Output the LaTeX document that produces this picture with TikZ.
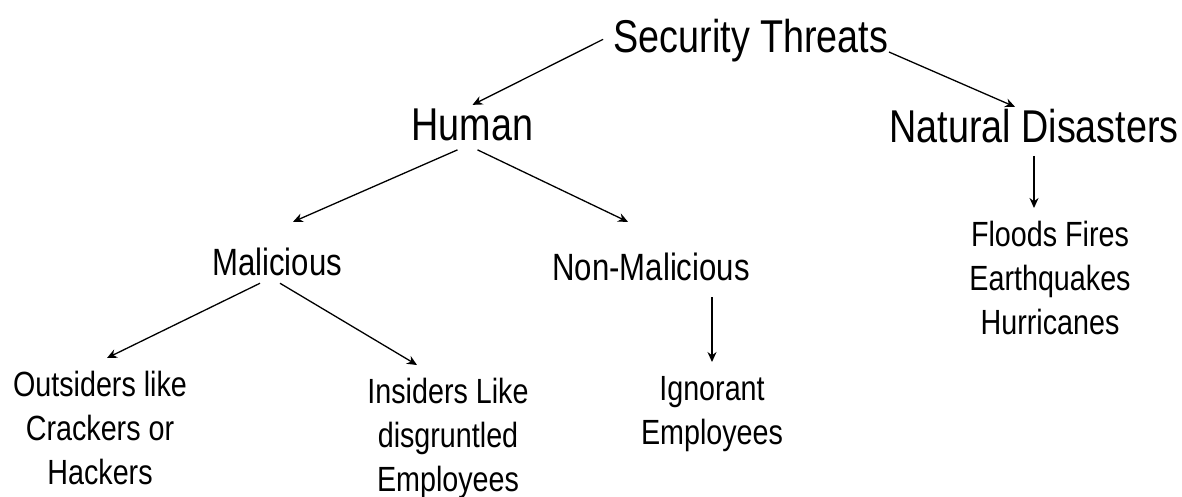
\documentclass[tikz,border=0pt]{standalone}
\usepackage{fontspec}
\setmainfont{Liberation Sans}[FakeStretch=0.82]
\usetikzlibrary{arrows.meta}

\begin{document}
\begin{tikzpicture}[x=1pt, y=-1pt, line width=1.3pt, >={Stealth[length=10pt,width=9pt]},
	toptext/.style={inner sep=0, anchor=base, font=\fontsize{46}{50}\selectfont, text height=34.5pt, text depth=9.2pt},
	midtext/.style={inner sep=0, anchor=base, font=\fontsize{38}{42}\selectfont, text height=28.5pt, text depth=7.6pt},
	bottext/.style={inner sep=0, anchor=north, align=center, font=\fontsize{35}{44}\selectfont}]
	\useasboundingbox (0,0) rectangle (1182,496);
	% Top Level %
	\node [toptext] (securitythreats) at (751,52) {Security Threats};
	\node [toptext] (human) at (472.5,140) {Human};
	\node [toptext] (naturaldisasters) at (1034,142) {Natural Disasters};
	% Human Threats %
	\node [midtext] (malicious) at (277,275) {Malicious};
	\node [midtext] (nonmalicious) at (651,280) {Non-Malicious};
	% Examples %
	\node [bottext] (outsiders) at (100,370) {Outsiders like\\Crackers or\\Hackers};
	\node [bottext] (insiders) at (448,377) {Insiders Like\\disgruntled\\Employees};
	\node [bottext] (ignorant) at (712,376) {Ignorant\\Employees};
	\node [bottext] (floodsfires) at (1050,220) {Floods Fires\\Earthquakes\\Hurricanes};
	% Arrows %
	\draw [->] ([xshift=-10pt]securitythreats.west) -- (human.north);
	\draw [->] (securitythreats.base east) -- ([xshift=-19pt]naturaldisasters.north);
	\draw [->] ([xshift=-15pt]human.south) -- ([xshift=16pt,yshift=24pt]malicious.north);
	\draw [->] ([xshift=5pt]human.south) -- ([xshift=-23pt,yshift=29pt]nonmalicious.north);
	\draw [->] ([xshift=-17pt]malicious.south) -- ([xshift=7pt,yshift=12pt]outsiders.north);
	\draw [->] ([xshift=3pt]malicious.south) -- ([xshift=-31pt,yshift=12pt]insiders.north);
	\draw [->, shorten <=9pt, shorten >=14pt] (ignorant.north |- nonmalicious.south) -- (ignorant.north);
	\draw [->, shorten <=4pt, shorten >=12pt] (naturaldisasters.south) -- (naturaldisasters.south |- floodsfires.north);
\end{tikzpicture}
\end{document}
